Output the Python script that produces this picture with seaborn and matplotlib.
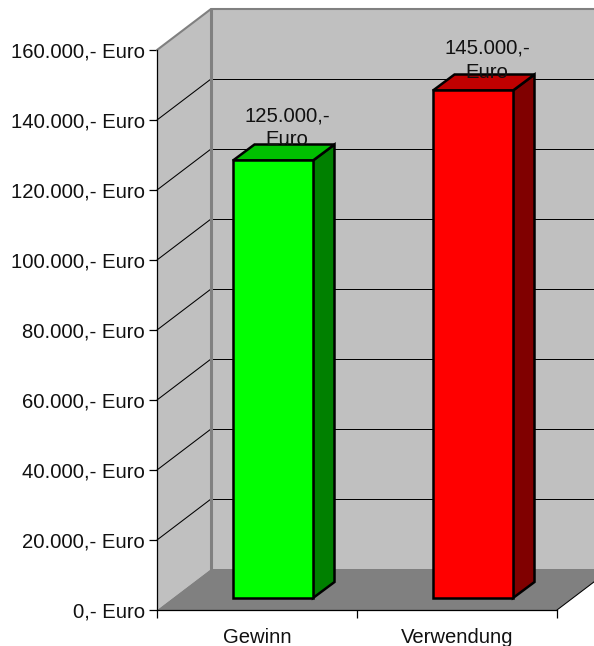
import seaborn as sns
import matplotlib.pyplot as plt
from matplotlib.patches import Polygon
from matplotlib.ticker import FixedLocator

categories = ["Gewinn", "Verwendung"]
values = [125000, 145000]
colors = ["#00ff00", "#ff0000"]
top_colors = ["#00c000", "#c00000"]
side_colors = ["#008000", "#800000"]
value_labels = ["125.000,-\nEuro", "145.000,-\nEuro"]
y_ticks = [0, 20000, 40000, 60000, 80000, 100000, 120000, 140000, 160000]
y_labels = ["0,- Euro", "20.000,- Euro", "40.000,- Euro", "60.000,- Euro", "80.000,- Euro",
            "100.000,- Euro", "120.000,- Euro", "140.000,- Euro", "160.000,- Euro"]

sns.set_theme(style="white")
plt.rcParams['font.family'] = ['Liberation Sans', 'DejaVu Sans']

W, H = 594, 646
fig = plt.figure(figsize=(W / 100, H / 100), dpi=100)
ax = fig.add_axes([157 / W, 1 - 610 / H, 400 / W, 560 / H])
ax.patch.set_visible(False)

# the depth of the fake 3d box, in data units (54 and 41 pixels)
DX = 0.27
DY = 11714
XMIN, XMAX = -0.5, 1.5
YMAX = 160000
WALL = "#c0c0c0"
FLOOR = "#808080"

# walls and floor
ax.add_patch(Polygon([(XMIN, 0), (XMIN + DX, DY), (XMIN + DX, YMAX + DY), (XMIN, YMAX)],
                     fc=WALL, ec="none", zorder=0, clip_on=False))
ax.add_patch(Polygon([(XMIN + DX, DY), (XMAX + DX, DY), (XMAX + DX, YMAX + DY), (XMIN + DX, YMAX + DY)],
                     fc=WALL, ec="none", zorder=0, clip_on=False))
ax.add_patch(Polygon([(XMIN, 0), (XMAX, 0), (XMAX + DX, DY), (XMIN + DX, DY)],
                     fc=FLOOR, ec="none", zorder=0, clip_on=False))

for t in y_ticks[1:-1]:
    ax.plot([XMIN, XMIN + DX], [t, t + DY], color="black", lw=0.75, zorder=1, clip_on=False)
    ax.plot([XMIN + DX, XMAX + DX], [t + DY, t + DY], color="black", lw=0.72, zorder=1, clip_on=False, snap=True)
ax.plot([XMIN, XMIN + DX, XMAX + DX], [YMAX, YMAX + DY, YMAX + DY], color=FLOOR, lw=1.5, zorder=1, clip_on=False)
ax.plot([XMIN + DX, XMIN + DX], [DY, YMAX + DY], color=FLOOR, lw=2.2, zorder=1, clip_on=False)
ax.plot([XMAX, XMAX + DX], [0, DY], color="black", lw=0.75, zorder=1, clip_on=False)

sns.barplot(x=categories, y=values, hue=categories, palette=colors, legend=False, width=0.4,
            edgecolor="black", linewidth=1.8, saturation=1, ax=ax, zorder=4)

# bars stand inside the box, not on its front edge
BAR_DX = 0.08
BAR_DY = 3430
BAR_DEPTH_X = 0.1075
BAR_DEPTH_Y = 4570
label_pad = [9300, 8600]
for i, p in enumerate(ax.patches[-len(values):]):
    p.set_x(p.get_x() + BAR_DX)
    p.set_y(BAR_DY)
    p.set_joinstyle("miter")
    x0, x1 = p.get_x(), p.get_x() + p.get_width()
    y0, y1 = BAR_DY, BAR_DY + values[i]
    ax.add_patch(Polygon([(x1, y0), (x1 + BAR_DEPTH_X, y0 + BAR_DEPTH_Y), (x1 + BAR_DEPTH_X, y1 + BAR_DEPTH_Y), (x1, y1)],
                         fc=side_colors[i], ec="black", lw=1.8, zorder=3.5, clip_on=False))
    ax.add_patch(Polygon([(x0, y1), (x1, y1), (x1 + BAR_DEPTH_X, y1 + BAR_DEPTH_Y), (x0 + BAR_DEPTH_X, y1 + BAR_DEPTH_Y)],
                         fc=top_colors[i], ec="black", lw=1.8, zorder=3.5, clip_on=False))
    ax.text((x0 + x1) / 2 + 0.07, y1 + label_pad[i], value_labels[i], ha="center", va="center",
            fontsize=14.6, color="#111111", linespacing=1.33, zorder=5)

ax.set_xlim(XMIN, XMAX)
ax.set_ylim(0, YMAX)
ax.set_yticks(y_ticks)
ax.set_yticklabels(y_labels)
ax.set_xticks([XMIN, 0.5, XMAX])
ax.set_xticklabels([])
ax.xaxis.set_minor_locator(FixedLocator([0, 1]))
ax.set_xticklabels(categories, minor=True)
ax.tick_params(axis="y", left=True, length=5.8, width=0.9, color="black", labelsize=14.6, pad=3, labelcolor="#111111")
ax.tick_params(axis="x", which="major", bottom=True, length=5.8, width=0.9, color="black")
ax.tick_params(axis="x", which="minor", bottom=False, length=0, labelsize=14.6, pad=13, labelcolor="#111111")
for name in ["top", "right"]:
    ax.spines[name].set_visible(False)
for name in ["left", "bottom"]:
    ax.spines[name].set_color("black")
    ax.spines[name].set_linewidth(0.9)

fig.savefig("out.png", dpi=100)
